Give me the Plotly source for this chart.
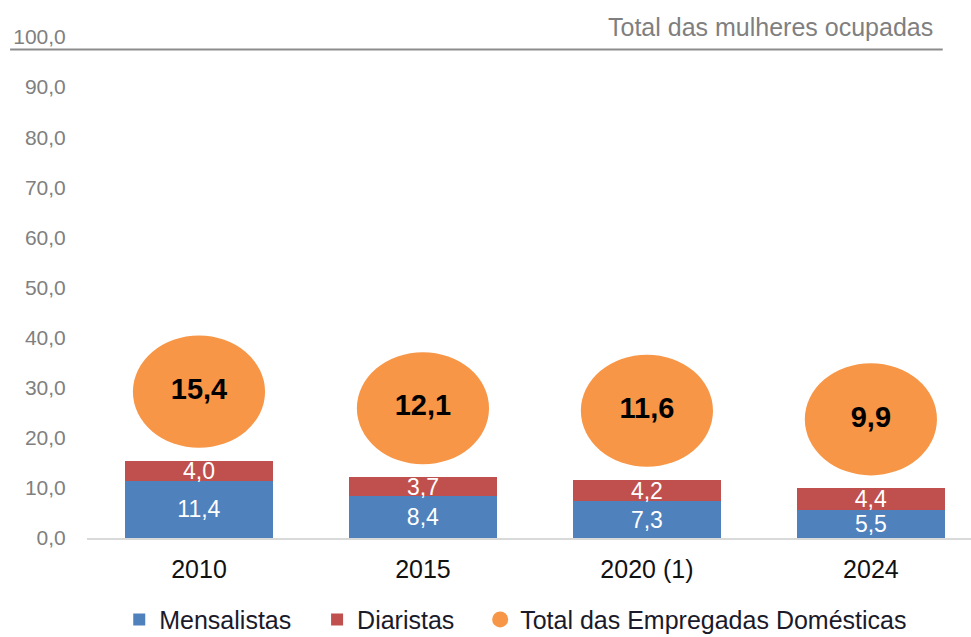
import plotly.graph_objects as go

categories = ["2010", "2015", "2020 (1)", "2024"]
mensalistas = [11.4, 8.4, 7.3, 5.5]
diaristas = [4.0, 3.7, 4.2, 4.4]
total = [15.4, 12.1, 11.6, 9.9]
y_ticks = [0, 10, 20, 30, 40, 50, 60, 70, 80, 90, 100]

BLUE = "#4F81BD"
RED = "#C0504D"
ORANGE = "#F79646"
FONT = "Liberation Sans, Arial, sans-serif"
NB = "\u00a0"


def br(v):
    return f"{v:.1f}".replace(".", ",")


xi = list(range(len(categories)))
bubble_offset = 13.8
bubble_ry = 11.2
bubble_rx = 0.295
bubble_y = [t + bubble_offset for t in total]

fig = go.Figure()
fig.add_trace(go.Bar(
    x=xi, y=mensalistas, name="Mensalistas" + NB * 3, marker=dict(color=BLUE, line=dict(width=0)),
    text=[br(v) for v in mensalistas], textposition="inside", insidetextanchor="middle",
    constraintext="none", cliponaxis=False,
    textfont=dict(color="white", size=23, family=FONT), width=0.66,
))
fig.add_trace(go.Bar(
    x=xi, y=diaristas, name="Diaristas" + NB * 3, marker=dict(color=RED, line=dict(width=0)),
    text=[br(v) for v in diaristas], textposition="inside", insidetextanchor="middle",
    constraintext="none", cliponaxis=False,
    textfont=dict(color="white", size=23, family=FONT), width=0.66,
))
# legend entry for the bubbles
fig.add_trace(go.Scatter(
    x=[None], y=[None], mode="markers", name="Total das Empregadas Domésticas",
    marker=dict(color=ORANGE, size=24, symbol="circle"),
))
# bubble labels
fig.add_trace(go.Scatter(
    x=xi, y=bubble_y, mode="text", text=[f"<b>{br(v)}</b>" for v in total],
    textfont=dict(color="black", size=29, family=FONT), showlegend=False, hoverinfo="skip",
))

shapes = []
for i, cy in zip(xi, bubble_y):
    shapes.append(dict(type="circle", xref="x", yref="y",
                       x0=i - bubble_rx, x1=i + bubble_rx, y0=cy - bubble_ry, y1=cy + bubble_ry,
                       fillcolor=ORANGE, line=dict(width=0), layer="below"))
# top reference line
shapes.append(dict(type="line", xref="paper", yref="paper", x0=-0.087, x1=0.968,
                   y0=0.975, y1=0.975, line=dict(color="#8c8c8c", width=2)))

fig.update_layout(
    width=971, height=637,
    barmode="stack",
    plot_bgcolor="white", paper_bgcolor="white",
    margin=dict(l=87, r=0, t=37, b=99, autoexpand=False),
    font=dict(family=FONT),
    separators=",.",
    shapes=shapes,
    showlegend=True,
    legend=dict(orientation="h", x=0.485, xanchor="center", y=-0.163, yanchor="middle",
                font=dict(size=25, color="#1a1a2a"), traceorder="normal",
                itemwidth=30, tracegroupgap=0),
    annotations=[dict(text="Total das mulheres ocupadas", xref="paper", yref="paper",
                      x=0.959, y=1.02, xanchor="right", yanchor="middle", showarrow=False,
                      font=dict(size=25, color="#7f7f7f", family=FONT))],
)
fig.update_xaxes(
    tickmode="array", tickvals=xi, ticktext=categories, range=[-0.5, 3.447],
    showgrid=False, showline=True, linecolor="#d9d9d9", linewidth=2,
    tickfont=dict(size=25, color="#111111", family=FONT), ticks="outside", ticklen=8,
    tickcolor="rgba(0,0,0,0)", zeroline=False, automargin=False,
)
fig.update_yaxes(
    range=[0, 100], tickvals=y_ticks, ticktext=[br(v) for v in y_ticks],
    showgrid=False, showline=False, zeroline=False, automargin=False,
    tickfont=dict(size=21, color="#808080", family=FONT),
    ticks="outside", ticklen=16, tickcolor="rgba(0,0,0,0)",
)

fig.write_html("out.html", config={"displayModeBar": False},
               post_script="document.body.style.margin='0';")
